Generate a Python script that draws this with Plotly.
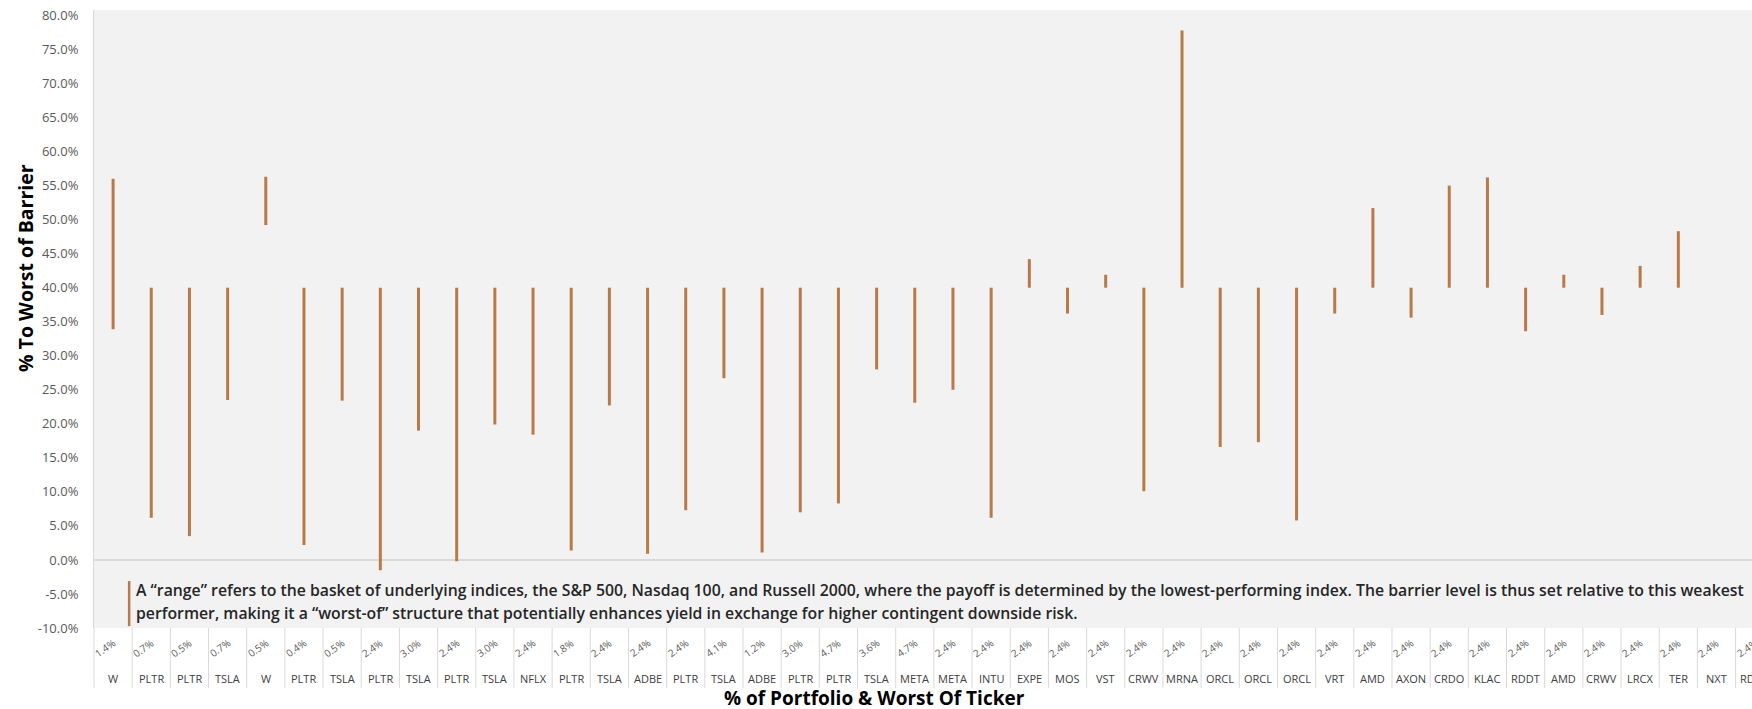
import plotly.graph_objects as go

# ---------------- data ----------------
tickers = ["W", "PLTR", "PLTR", "TSLA", "W", "PLTR", "TSLA", "PLTR", "TSLA", "PLTR",
           "TSLA", "NFLX", "PLTR", "TSLA", "ADBE", "PLTR", "TSLA", "ADBE", "PLTR", "PLTR",
           "TSLA", "META", "META", "INTU", "EXPE", "MOS", "VST", "CRWV", "MRNA", "ORCL",
           "ORCL", "ORCL", "VRT", "AMD", "AXON", "CRDO", "KLAC", "RDDT", "AMD", "CRWV",
           "LRCX", "TER", "NXT", "RDDT"]
portfolio_pct = [1.4, 0.7, 0.5, 0.7, 0.5, 0.4, 0.5, 2.4, 3.0, 2.4,
                 3.0, 2.4, 1.8, 2.4, 2.4, 2.4, 4.1, 1.2, 3.0, 4.7,
                 3.6, 4.7, 2.4, 2.4, 2.4, 2.4, 2.4, 2.4, 2.4, 2.4,
                 2.4, 2.4, 2.4, 2.4, 2.4, 2.4, 2.4, 2.4, 2.4, 2.4,
                 2.4, 2.4, 2.4, 2.4]
range_low = [33.9, 6.2, 3.5, 23.5, 49.2, 2.2, 23.4, -1.5, 19.0, -0.2,
             19.9, 18.4, 1.4, 22.7, 0.9, 7.3, 26.7, 1.1, 7.0, 8.3,
             28.0, 23.1, 25.0, 6.2, 40.0, 36.2, 40.0, 10.1, 40.0, 16.6,
             17.3, 5.8, 36.2, 40.0, 35.6, 40.0, 40.0, 33.6, 40.0, 36.0,
             40.0, 40.0, None, None]
range_high = [56.0, 40.0, 40.0, 40.0, 56.3, 40.0, 40.0, 40.0, 40.0, 40.0,
              40.0, 40.0, 40.0, 40.0, 40.0, 40.0, 40.0, 40.0, 40.0, 40.0,
              40.0, 40.0, 40.0, 40.0, 44.2, 40.0, 41.9, 40.0, 77.8, 40.0,
              40.0, 40.0, 40.0, 51.7, 40.0, 55.0, 56.2, 40.0, 41.9, 40.0,
              43.2, 48.3, None, None]
y_ticks = list(range(-10, 81, 5))
legend_lines = [
    "A “range” refers to the basket of underlying indices, the S&P 500, Nasdaq 100, and Russell 2000, "
    "where the payoff is determined by the lowest-performing index. The barrier level is thus set relative to this weakest",
    "performer, making it a “worst-of” structure that potentially enhances yield in exchange for higher contingent downside risk.",
]

# ---------------- styling ----------------
COLOR = "#B87A48"
FONT = "Open Sans"
X_RANGE = [-0.5, 42.93]

xs, ys = [], []
for i, (lo, hi) in enumerate(zip(range_low, range_high)):
    if lo is None or hi is None:
        continue
    xs += [i, i, None]
    ys += [lo, hi, None]

fig = go.Figure()
fig.add_trace(go.Scatter(x=xs, y=ys, mode="lines", line=dict(color=COLOR, width=3),
                         showlegend=False, hoverinfo="skip"))

def xpaper(v):
    return (v - X_RANGE[0]) / (X_RANGE[1] - X_RANGE[0])

annotations = []
shapes = []
n = len(tickers)
for i in range(n):
    annotations.append(dict(x=xpaper(i), y=-0.0325, xref="paper", yref="paper",
                            xanchor="center", yanchor="middle",
                            text=f"{portfolio_pct[i]:.1f}%", showarrow=False, textangle=-35,
                            xshift=-8, font=dict(family=FONT, size=10, color="#595959")))
    annotations.append(dict(x=xpaper(i), y=-0.0825, xref="paper", yref="paper",
                            xanchor="center", yanchor="middle",
                            text=tickers[i], showarrow=False,
                            font=dict(family=FONT, size=11, color="#404040")))
for i in range(n + 1):
    shapes.append(dict(type="line", xref="paper", yref="paper",
                       x0=xpaper(i - 0.5), x1=xpaper(i - 0.5), y0=0, y1=-0.097,
                       line=dict(color="#D9D9D9", width=1)))

# legend-like note
shapes.append(dict(type="line", xref="paper", yref="paper", x0=0.0212, x1=0.0212,
                   y0=0.003, y1=0.076, line=dict(color=COLOR, width=2.5)))
for line, yp in zip(legend_lines, [0.0615, 0.0243]):
    annotations.append(dict(x=0.0242, y=yp, xref="paper", yref="paper", xanchor="left",
                            yanchor="middle", align="left", text=line, showarrow=False,
                            font=dict(family=FONT, size=15.8, color="#262626", weight=600)))

# axis titles
annotations.append(dict(x=0.471, y=-0.1125, xref="paper", yref="paper", xanchor="center",
                        yanchor="middle", text="% of Portfolio & Worst Of Ticker", showarrow=False,
                        font=dict(family=FONT, size=19, color="#000000", weight="bold")))
annotations.append(dict(x=0, y=0.5825, xref="paper", yref="paper", xanchor="center",
                        yanchor="middle", text="% To Worst of Barrier", showarrow=False,
                        textangle=-90, xshift=-69,
                        font=dict(family=FONT, size=19.5, color="#000000", weight="bold")))

fig.update_layout(
    width=1752, height=709,
    margin=dict(l=94, r=0, t=10, b=81, autoexpand=False),
    paper_bgcolor="white", plot_bgcolor="#F2F2F2",
    annotations=annotations, shapes=shapes,
    font=dict(family=FONT),
    xaxis=dict(range=X_RANGE, showticklabels=False, showgrid=False, zeroline=False,
               showline=False, ticks="", automargin=False),
    yaxis=dict(range=[-10, 80.8], tickvals=y_ticks, ticktext=[f"{v:.1f}%" for v in y_ticks],
               showgrid=False, zeroline=True, zerolinecolor="#D9D9D9", zerolinewidth=1.5,
               showline=True, linecolor="#D9D9D9", linewidth=1, ticks="",
               ticklabelstandoff=12, automargin=False,
               tickfont=dict(family=FONT, size=13, color="#595959")),
)

fig.write_html("out.html", config={"displayModeBar": False},
               post_script="document.body.style.margin='0';document.body.style.overflow='hidden';")
